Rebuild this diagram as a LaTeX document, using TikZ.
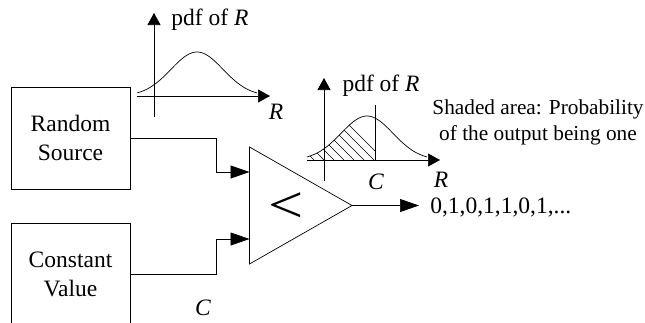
\documentclass[tikz,border=0pt]{standalone}
\usepackage{fontspec}
\setmainfont{Liberation Serif}
\usetikzlibrary{arrows.meta}
\tikzset{
  sourcebox/.style={draw, minimum width=119pt, minimum height=102pt, align=center, inner sep=0pt, font=\fontsize{23.5}{29}\selectfont},
  lbl/.style={inner sep=0pt, font=\fontsize{23.5}{28}\selectfont},
  note/.style={inner sep=0pt, align=center, font=\fontsize{21.3}{26}\selectfont},
  axisline/.style={-{Triangle[length=12pt,width=13pt]}},
  arrowline/.style={-{Triangle[length=19pt,width=13pt]}},
  hatchline/.style={line width=0.6pt}
}
\begin{document}
\begin{tikzpicture}[x=1pt,y=-1pt,line width=0.7pt]
\useasboundingbox (0,0) rectangle (645,322);
% blocks
\node [sourcebox] (random) at (70.5,138) {Random\\Source};
\node [sourcebox] (constant) at (70.5,274) {Constant\\Value};
% comparator
\coordinate (cmptop) at (249.5,147);
\coordinate (cmpbot) at (249.5,264);
\coordinate (cmptip) at (352,205.5);
\coordinate (cmpin1) at (249.5,172);
\coordinate (cmpin2) at (249.5,239);
\coordinate (output) at (419,205.5);
\draw (cmptop)--(cmptip)--(cmpbot)--cycle;
\node [inner sep=0pt, font=\fontsize{52}{52}\selectfont] (lessthan) at (286.5,207.5) {\scalebox{1.2}[1]{<}};
% connectors
\draw [arrowline] (random.east)-|(216,172)--(cmpin1);
\draw [arrowline] (constant.east)-|(216,239)--(cmpin2);
\draw [arrowline] (cmptip)--(output);
\node [lbl, anchor=west] (bits) at (430,207) {0,1,0,1,1,0,1,...};
\node [lbl] (clabel) at (203,308) {\textit{C}};
% upper pdf
\coordinate (axisa1) at (154,117);
\coordinate (axisa2) at (154,13);
\coordinate (axisa3) at (137,96);
\coordinate (axisa4) at (270,96);
\draw [axisline] (axisa1)--(axisa2);
\draw [axisline] (axisa3)--(axisa4);
\draw [domain=137:257, samples=60, smooth] plot (\x,{96-44*exp(-(\x-197)*(\x-197)/1352)});
\node [lbl] (pdfa) at (210,20) {pdf of \textit{R}};
\node [lbl] (ra) at (276,112) {\textit{R}};
% lower pdf
\coordinate (axisb1) at (324,181);
\coordinate (axisb2) at (324,78);
\coordinate (axisb3) at (307,160);
\coordinate (axisb4) at (440,160);
\coordinate (cutbot) at (375.5,160);
\coordinate (cuttop) at (375.5,105);
\draw [axisline] (axisb1)--(axisb2);
\draw [axisline] (axisb3)--(axisb4);
\draw (cutbot)--(cuttop);
\draw [domain=307:427, samples=60, smooth] plot (\x,{160-44*exp(-(\x-367)*(\x-367)/1352)});
\begin{scope}
\clip [domain=307:375.5, samples=60, smooth] (307,160)--plot (\x,{160-44*exp(-(\x-367)*(\x-367)/1352)})--(375.5,160)--cycle;
\draw [hatchline] (314,160)--(296,142);
\draw [hatchline] (324,160)--(306,142);
\draw [hatchline] (334,160)--(306,132);
\draw [hatchline] (344,160)--(306,122);
\draw [hatchline] (354,160)--(306,112);
\draw [hatchline] (364,160)--(316,112);
\draw [hatchline] (374,160)--(326,112);
\draw [hatchline] (384,160)--(336,112);
\end{scope}
\node [lbl] (pdfb) at (381,86) {pdf of \textit{R}};
\node [lbl] (rb) at (441,180) {\textit{R}};
\node [lbl] (cb) at (376,182) {\textit{C}};
\node [note] (shaded) at (538,122) {Shaded area: Probability\\of the output being one};
\end{tikzpicture}
\end{document}
